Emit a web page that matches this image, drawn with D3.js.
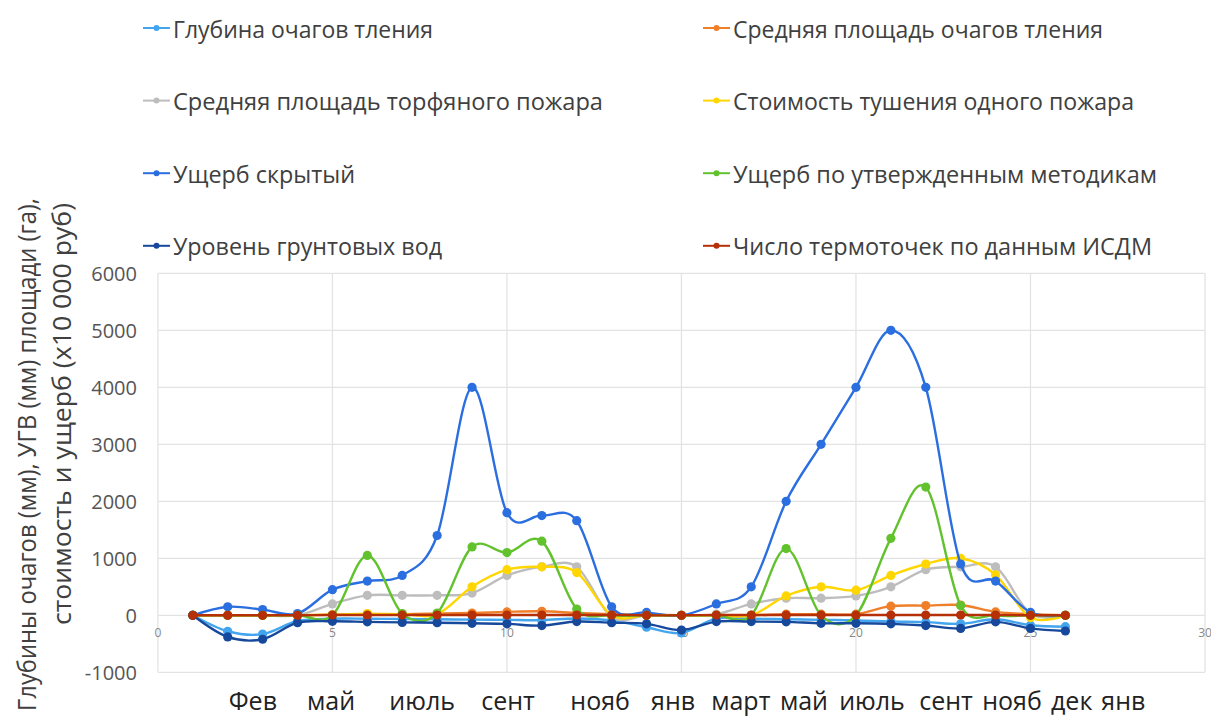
<!DOCTYPE html>
<html><head><meta charset="utf-8">
<script src="https://cdn.jsdelivr.net/npm/d3@7"></script>
<style>
html,body{margin:0;padding:0;background:#fff;}
svg{display:block;font-family:"Open Sans","Noto Sans",sans-serif;}
</style></head>
<body>
<svg id="chart" width="1211" height="717"></svg>
<script>
// ---------- DATA ----------
const xValues = [1,2,3,4,5,6,7,8,9,10,11,12,13,14,15,16,17,18,19,20,21,22,23,24,25,26];

const seriesNames = [
  "Глубина очагов тления",
  "Средняя площадь очагов тления",
  "Средняя площадь торфяного пожара",
  "Стоимость тушения одного пожара",
  "Ущерб скрытый",
  "Ущерб по утвержденным методикам",
  "Уровень грунтовых вод",
  "Число термоточек по данным ИСДМ"
];

const depthSmolder   = [0,-280,-330,-100,-60,-60,-65,-70,-75,-80,-85,-55,-90,-210,-310,-55,-60,-70,-80,-90,-110,-120,-150,-70,-175,-200];
const areaSmolder    = [0,0,0,0,10,20,20,30,40,60,70,40,20,10,0,0,0,20,20,20,160,170,180,60,20,0];
const areaPeatFire   = [0,0,0,0,200,350,350,350,390,700,850,850,-30,0,0,20,200,300,300,340,500,800,850,850,30,0];
const costPerFire    = [0,0,0,0,10,30,20,20,500,800,850,750,0,0,0,0,0,340,500,440,700,900,1000,710,-40,0];
const damageHidden   = [0,150,100,30,450,600,700,1400,4000,1800,1750,1660,150,50,0,200,500,2000,3000,4000,5000,4000,900,600,50,0];
const damageApproved = [0,0,0,0,0,1050,30,40,1200,1100,1300,110,0,0,0,0,0,1170,0,0,1350,2250,170,0,0,0];
const groundWater    = [0,-380,-420,-130,-105,-115,-125,-130,-140,-150,-180,-110,-130,-150,-260,-110,-110,-115,-140,-140,-150,-180,-230,-115,-230,-275];
const hotSpots       = [0,0,0,0,5,5,5,5,5,5,5,5,5,0,0,5,5,5,5,5,5,5,5,5,0,0];

const seriesValues = [depthSmolder, areaSmolder, areaPeatFire, costPerFire, damageHidden, damageApproved, groundWater, hotSpots];

const yTicks = [-1000,0,1000,2000,3000,4000,5000,6000];
const xTicks = [0,5,10,15,20,25,30];

const monthLabels = ["Фев","май","июль","сент","нояб","янв","март","май","июль","сент","нояб","дек","янв"];
const monthLabelAt = [2.72,4.96,7.57,10.03,12.67,14.76,16.70,18.51,20.46,22.58,24.47,26.18,27.66];

const yTitleLines = ["Глубины очагов (мм), УГВ (мм) площади (га),", "стоимость и ущерб (x10 000 руб)"];

// ---------- STYLE ----------
const colors = ["#42a5ee","#f07f2a","#bdbdbd","#ffd600","#2b6ee0","#62c22e","#16489c","#b53006"];

const svg = d3.select("#chart");
svg.append("rect").attr("width",1211).attr("height",717).attr("fill","#fff");

const x = d3.scaleLinear().domain([0,30]).range([157.9,1205]);
const y = d3.scaleLinear().domain([-1000,6000]).range([672.3,273.3]);

// gridlines
const grid = svg.append("g");
grid.selectAll("line.h").data(yTicks).join("line")
  .attr("x1",x(0)).attr("x2",x(30))
  .attr("y1",d=>y(d)).attr("y2",d=>y(d))
  .attr("stroke","#e3e3e3").attr("stroke-width",1.3);
grid.selectAll("line.v").data(xTicks).join("line")
  .attr("y1",y(-1000)).attr("y2",y(6000))
  .attr("x1",d=>x(d)).attr("x2",d=>x(d))
  .attr("stroke","#e3e3e3").attr("stroke-width",1.3);

// y tick labels
svg.append("g").selectAll("text").data(yTicks).join("text")
  .attr("x",137).attr("y",d=>y(d)).attr("dy","0.36em")
  .attr("text-anchor","end").attr("font-size",20).attr("fill","#555")
  .text(d=>d);

// x tick labels (at zero crossing)
svg.append("g").selectAll("text").data(xTicks).join("text")
  .attr("x",d=>x(d)).attr("y",y(0)+22)
  .attr("text-anchor","middle").attr("font-size",12).attr("fill","#888")
  .text(d=>d);

// lines
const line = d3.line().curve(d3.curveCatmullRom.alpha(0))
  .x((d,i)=>x(xValues[i])).y(d=>y(d));

seriesValues.forEach((vals,si)=>{
  const g = svg.append("g");
  g.append("path").attr("d",line(vals)).attr("fill","none")
    .attr("stroke",colors[si]).attr("stroke-width",2.4);
  g.selectAll("circle").data(vals).join("circle")
    .attr("cx",(d,i)=>x(xValues[i])).attr("cy",d=>y(d)).attr("r",4.6)
    .attr("fill",colors[si]);
});

// legend
const legendCols = [[0,2,4,6],[1,3,5,7]];
const legendWidths = [260,370,430,401,182,424,269,419];
legendCols.forEach((col,ci)=>{
  const lx = ci===0 ? 143 : 703;
  col.forEach((si,ri)=>{
    const base = 37.5 + ri*72.6;
    const my = base - 9.5;
    const g = svg.append("g");
    g.append("line").attr("x1",lx).attr("x2",lx+27).attr("y1",my).attr("y2",my)
      .attr("stroke",colors[si]).attr("stroke-width",2);
    g.append("circle").attr("cx",lx+13.5).attr("cy",my).attr("r",3).attr("fill",colors[si]);
    g.append("text").attr("x",lx+30).attr("y",base)
      .attr("font-size",23).attr("fill","#404040")
      .attr("textLength",legendWidths[si]).attr("lengthAdjust","spacingAndGlyphs")
      .text(seriesNames[si]);
  });
});

// month labels
svg.append("g").selectAll("text").data(monthLabels).join("text")
  .attr("x",(d,i)=>x(monthLabelAt[i])).attr("y",710)
  .attr("text-anchor","middle").attr("font-size",25).attr("fill","#222")
  .text(d=>d);

// y title
svg.append("text").attr("transform","translate(36,711) rotate(-90)")
  .attr("font-size",25).attr("fill","#404040")
  .attr("textLength",513).attr("lengthAdjust","spacingAndGlyphs")
  .text(yTitleLines[0]);
svg.append("text").attr("transform","translate(71,625) rotate(-90)")
  .attr("font-size",25).attr("fill","#404040")
  .attr("textLength",422).attr("lengthAdjust","spacingAndGlyphs")
  .text(yTitleLines[1]);
</script>
</body></html>
